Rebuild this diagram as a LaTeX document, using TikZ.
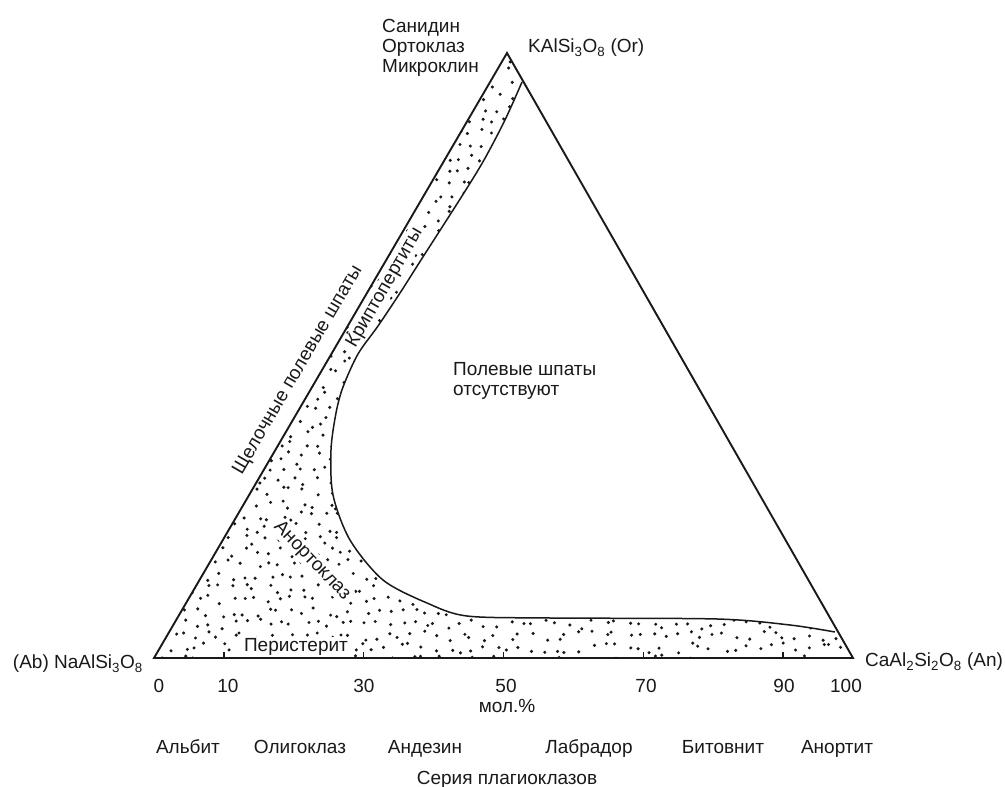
\documentclass[tikz,border=0pt]{standalone}
\usepackage{fontspec}
\setmainfont{Liberation Sans}
\usetikzlibrary{calc}
\definecolor{FspInk}{RGB}{25,25,25}

\begin{document}
\begin{tikzpicture}[x=1pt,y=-1pt,
  lbl/.style={inner sep=0pt, text=FspInk, font=\fontsize{19}{20}\selectfont},
  field/.style={lbl, fill=white, inner sep=1pt},
  side/.style={draw=FspInk, line width=1.9pt, line join=miter},
  tick/.style={draw=FspInk, line width=1.3pt}]
  \useasboundingbox (0,0) rectangle (1005,787);

  \coordinate (Ab) at (154,658);
  \coordinate (An) at (853,658);
  \coordinate (Or) at (507,53);

  % stipple, bounded by the solvus
  \begin{scope}
    \clip (Ab) -- (Or) -- plot[smooth,tension=0.5] coordinates {(522,82) (505,120) (484,160) (462,196) (421,260) (400,293) (378,326) (358,354) (343,387) (336,413) (331,450) (333,495) (350,540) (383,580) (427,603) (467,616) (550,618) (717,619) (790,625) (835,632)} -- (An) -- cycle;
    \pgfmathsetseed{11}
    \foreach \gx in {148,160,...,862}{
      \foreach \gy in {48,60,...,668}{
        \fill[FspInk] (\gx+rand*5, \gy+rand*5) circle (1.7);
      }
    }
  \end{scope}

  % fields
  \node[lbl, rotate=59.7] (alk) at (298,370) {Щелочные полевые шпаты};
  \node[field, rotate=60] (krip) at (385,288) {Криптопертиты};
  \node[field, rotate=-46] (anort) at (312,561) {Анортоклаз};
  \node[field] (perist) at (296,647) {Перистерит};
  \node[lbl, align=left, anchor=north west] (none) at (453,362) {Полевые шпаты\\отсутствуют};

  \draw[FspInk, line width=1.5pt] plot[smooth,tension=0.5] coordinates {(522,82) (505,120) (484,160) (462,196) (421,260) (400,293) (378,326) (358,354) (343,387) (336,413) (331,450) (333,495) (350,540) (383,580) (427,603) (467,616) (550,618) (717,619) (790,625) (835,632)};
  \draw[side] (Ab) -- (Or) -- (An) -- cycle;

  \foreach \p in {10,30,50,70,90}{
    \draw[tick] ($(Ab)!\p/100!(An)$) -- ++(0,-6);
  }

  % vertices
  \node[lbl, align=left, anchor=north west] (oname) at (382,19) {Санидин\\Ортоклаз\\Микроклин};
  \node[lbl, anchor=west] (or) at (528,48) {KAlSi\textsubscript{3}O\textsubscript{8} (Or)};
  \node[lbl, anchor=east] (ab) at (143,664) {(Ab) NaAlSi\textsubscript{3}O\textsubscript{8}};
  \node[lbl, anchor=west] (an) at (865,662) {CaAl\textsubscript{2}Si\textsubscript{2}O\textsubscript{8} (An)};

  % composition scale
  \foreach \x/\num in {159/0,228/10,364/30,506/50,646/70,784/90,846/100}{
    \node[lbl] (n\num) at (\x,686) {\num};
  }
  \node[lbl] (mol) at (507,706) {мол.\%};

  \foreach \x/\name/\id in {188/Альбит/alb,300/Олигоклаз/olig,425/Андезин/and,589/Лабрадор/lab,723/Битовнит/bit,837/Анортит/anor}{
    \node[lbl, anchor=base] (\id) at (\x,753) {\name};
  }
  \node[lbl] (series) at (507,780) {Серия плагиоклазов};
\end{tikzpicture}
\end{document}
